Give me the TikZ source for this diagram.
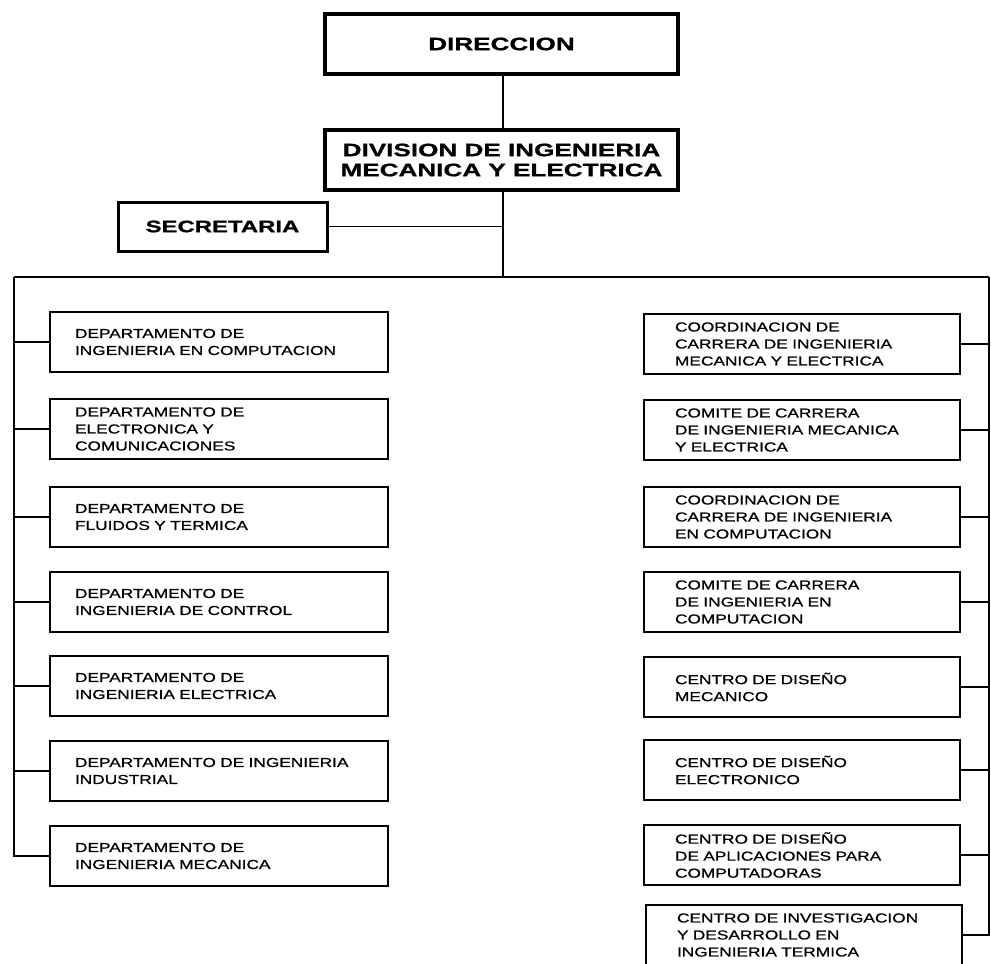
\documentclass[tikz,border=0pt]{standalone}
\usepackage{fontspec}
\setmainfont{Liberation Sans}
\newfontfamily\boxfont[FakeStretch=1.33,FakeBold=0.8]{Liberation Sans}
\newfontfamily\headfont[FakeStretch=1.45,FakeBold=1]{Liberation Sans}

\begin{document}
\begin{tikzpicture}[x=1pt,y=-1pt,
    headbox/.style={draw,line width=3.2pt,minimum width=353pt,minimum height=60pt,align=center,
        font=\headfont\bfseries\fontsize{18}{20}\selectfont},
    secbox/.style={draw,line width=3pt,minimum width=209pt,minimum height=49pt,
        font=\headfont\bfseries\fontsize{16.5}{18}\selectfont},
    depbox/.style={draw,line width=2.4pt,minimum height=60pt,inner xsep=25pt,text width=288pt,align=left,
        font=\boxfont\fontsize{13}{17}\selectfont},
    cenbox/.style={draw,line width=2.4pt,minimum height=60pt,inner xsep=31pt,text width=254pt,align=left,
        font=\boxfont\fontsize{13}{17}\selectfont},
    conn/.style={line width=1.8pt}]
    \useasboundingbox (0,0) rectangle (991,964);

    %top
    \node[headbox] (dir) at (501.5,44) {DIRECCION};
    \node[headbox] (div) at (501.5,160) {DIVISION DE INGENIERIA\\MECANICA Y ELECTRICA};
    \node[secbox] (sec) at (222.5,226.5) {SECRETARIA};

    %departamentos
    \node[depbox] (dep1) at (219,342) {DEPARTAMENTO DE\\INGENIERIA EN COMPUTACION};
    \node[depbox] (dep2) at (219,429) {DEPARTAMENTO DE\\ELECTRONICA Y\\COMUNICACIONES};
    \node[depbox] (dep3) at (219,517) {DEPARTAMENTO DE\\FLUIDOS Y TERMICA};
    \node[depbox] (dep4) at (219,602) {DEPARTAMENTO DE\\INGENIERIA DE CONTROL};
    \node[depbox] (dep5) at (219,686) {DEPARTAMENTO DE\\INGENIERIA ELECTRICA};
    \node[depbox] (dep6) at (219,771) {DEPARTAMENTO DE INGENIERIA\\INDUSTRIAL};
    \node[depbox] (dep7) at (219,856) {DEPARTAMENTO DE\\INGENIERIA MECANICA};

    %coordinaciones y centros
    \node[cenbox] (car1) at (802,344) {COORDINACION DE\\CARRERA DE INGENIERIA\\MECANICA Y ELECTRICA};
    \node[cenbox] (car2) at (802,430) {COMITE DE CARRERA\\DE INGENIERIA MECANICA\\Y ELECTRICA};
    \node[cenbox] (car3) at (802,517) {COORDINACION DE\\CARRERA DE INGENIERIA\\EN COMPUTACION};
    \node[cenbox] (car4) at (802,602) {COMITE DE CARRERA\\DE INGENIERIA EN\\COMPUTACION};
    \node[cenbox] (cen1) at (802,687) {CENTRO DE DISEÑO\\MECANICO};
    \node[cenbox] (cen2) at (802,770) {CENTRO DE DISEÑO\\ELECTRONICO};
    \node[cenbox] (cen3) at (802,855) {CENTRO DE DISEÑO\\DE APLICACIONES PARA\\COMPUTADORAS};
    \node[cenbox] (cen4) at (804,935) {CENTRO DE INVESTIGACION\\Y DESARROLLO EN\\INGENIERIA TERMICA};

    %lines
    \coordinate (bus) at (503,277);
    \coordinate (lbus) at (14,277);
    \coordinate (rbus) at (989,277);
    \draw[conn] (dir.south -| bus) -- (div.north -| bus);
    \draw[conn] (div.south -| bus) -- (bus);
    \draw[conn] (sec.east) -- (sec.east -| bus);
    \draw[conn] (lbus) -- (rbus);
    \draw[conn] (lbus) |- (dep7.west);
    \draw[conn] (rbus) |- (cen4.east);

    \draw[conn] (dep1.west) -- (dep1.west -| lbus);
    \draw[conn] (dep2.west) -- (dep2.west -| lbus);
    \draw[conn] (dep3.west) -- (dep3.west -| lbus);
    \draw[conn] (dep4.west) -- (dep4.west -| lbus);
    \draw[conn] (dep5.west) -- (dep5.west -| lbus);
    \draw[conn] (dep6.west) -- (dep6.west -| lbus);

    \draw[conn] (car1.east) -- (car1.east -| rbus);
    \draw[conn] (car2.east) -- (car2.east -| rbus);
    \draw[conn] (car3.east) -- (car3.east -| rbus);
    \draw[conn] (car4.east) -- (car4.east -| rbus);
    \draw[conn] (cen1.east) -- (cen1.east -| rbus);
    \draw[conn] (cen2.east) -- (cen2.east -| rbus);
    \draw[conn] (cen3.east) -- (cen3.east -| rbus);

\end{tikzpicture}
\end{document}
